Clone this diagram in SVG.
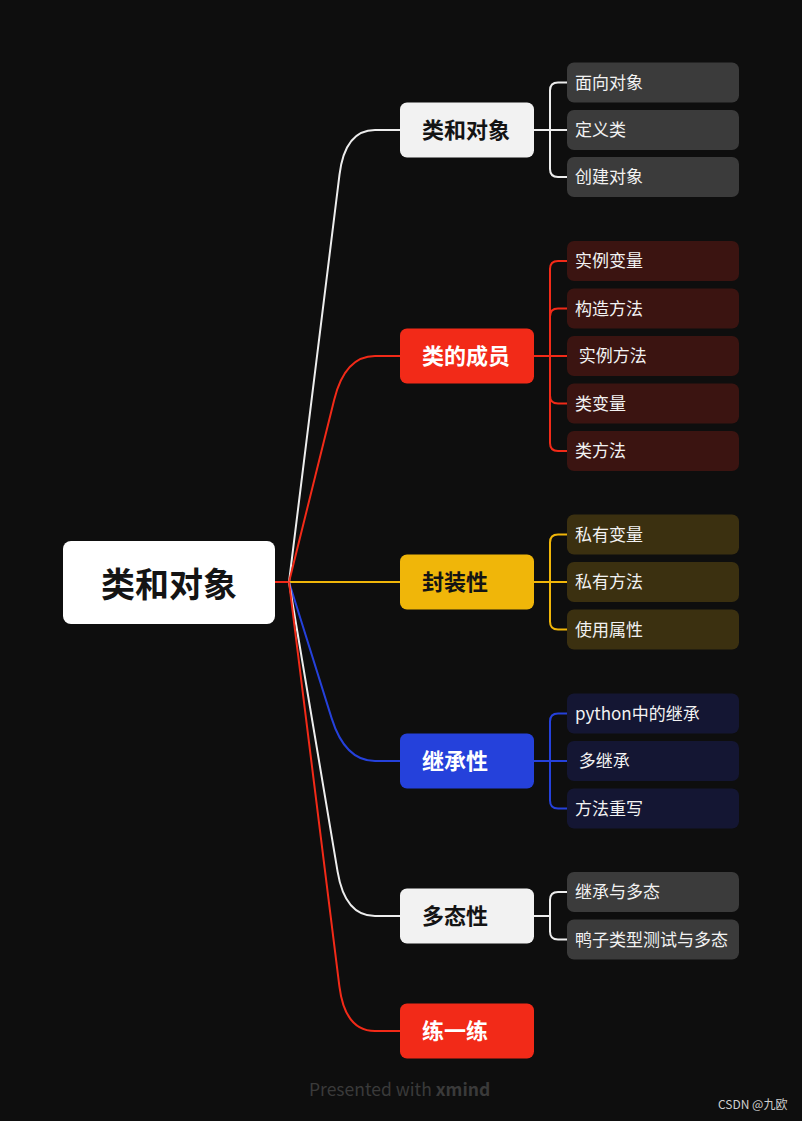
<svg xmlns="http://www.w3.org/2000/svg" width="802" height="1121" viewBox="0 0 802 1121">
<style>
text{font-family:"Noto Sans CJK SC","Noto Sans",sans-serif}
.l1{font-size:22px;font-weight:700}
.dk{fill:#141414}
.wt{fill:#ffffff}
.sub{font-size:17px;fill:#f2f2f2}
.c{fill:none;stroke-width:2;stroke-linecap:round}
.w{stroke:#ededed}.r{stroke:#f22a18}.y{stroke:#f0b609}.b{stroke:#2541db}
</style>
<rect width="802" height="1121" fill="#0e0e0e"/>
<g id="connectors">
<path class="c r" d="M274 582 L289 582"/>
<path class="c w" d="M289 582 L339.5 174.7 Q345 130 375 130 L400 130"/>
<path class="c r" d="M289 582 L334.2 399.7 Q345 356 375 356 L400 356"/>
<path class="c y" d="M289 582 L400 582"/>
<path class="c b" d="M289 582 L331.6 718.1 Q345 761 375 761 L400 761"/>
<path class="c w" d="M289 582 L337.6 871.6 Q345 916 375 916 L400 916"/>
<path class="c r" d="M289 582 L339.4 986.3 Q345 1031 375 1031 L400 1031"/>
<path class="c w" d="M534 130 L567 130 M550 130 L550 90.5 Q550 82.5 558 82.5 L567 82.5 M550 130 L550 169 Q550 177 558 177 L567 177"/>
<path class="c r" d="M534 356 L567 356 M550 356 L550 269 Q550 261 558 261 L567 261 M550 356 L550 316.5 Q550 308.5 558 308.5 L567 308.5 M550 356 L550 395.5 Q550 403.5 558 403.5 L567 403.5 M550 356 L550 443 Q550 451 558 451 L567 451"/>
<path class="c y" d="M534 582 L567 582 M550 582 L550 542.5 Q550 534.5 558 534.5 L567 534.5 M550 582 L550 621.5 Q550 629.5 558 629.5 L567 629.5"/>
<path class="c b" d="M534 761 L567 761 M550 761 L550 721.5 Q550 713.5 558 713.5 L567 713.5 M550 761 L550 800.5 Q550 808.5 558 808.5 L567 808.5"/>
<path class="c w" d="M534 916 L550 916 M550 916 L550 900 Q550 892 558 892 L567 892 M550 916 L550 931.5 Q550 939.5 558 939.5 L567 939.5"/>
</g>
<g id="root">
<rect x="63" y="541" width="212" height="83" rx="8" fill="#ffffff"/>
<text x="169" y="597" font-size="34" font-weight="700" fill="#141414" text-anchor="middle">类和对象</text>
</g>
<g id="n1">
<rect x="400" y="102.5" width="134" height="55" rx="7" fill="#f2f2f2"/>
<text class="l1 dk" x="422" y="138">类和对象</text>
</g>
<g id="n2">
<rect x="400" y="328.5" width="134" height="55" rx="7" fill="#f22a18"/>
<text class="l1 wt" x="422" y="364">类的成员</text>
</g>
<g id="n3">
<rect x="400" y="554.5" width="134" height="55" rx="7" fill="#f0b609"/>
<text class="l1 dk" x="422" y="590">封装性</text>
</g>
<g id="n4">
<rect x="400" y="733.5" width="134" height="55" rx="7" fill="#2541db"/>
<text class="l1 wt" x="422" y="769">继承性</text>
</g>
<g id="n5">
<rect x="400" y="888.5" width="134" height="55" rx="7" fill="#f2f2f2"/>
<text class="l1 dk" x="422" y="924">多态性</text>
</g>
<g id="n6">
<rect x="400" y="1003.5" width="134" height="55" rx="7" fill="#f22a18"/>
<text class="l1 wt" x="422" y="1039">练一练</text>
</g>
<g id="s1a"><rect x="567" y="62.5" width="172" height="40" rx="7" fill="#3b3b3b"/><text class="sub" x="575" y="88.5">面向对象</text></g>
<g id="s1b"><rect x="567" y="110" width="172" height="40" rx="7" fill="#3b3b3b"/><text class="sub" x="575" y="136">定义类</text></g>
<g id="s1c"><rect x="567" y="157" width="172" height="40" rx="7" fill="#3b3b3b"/><text class="sub" x="575" y="183">创建对象</text></g>
<g id="s2a"><rect x="567" y="241" width="172" height="40" rx="7" fill="#3b1411"/><text class="sub" x="575" y="267">实例变量</text></g>
<g id="s2b"><rect x="567" y="288.5" width="172" height="40" rx="7" fill="#3b1411"/><text class="sub" x="575" y="314.5">构造方法</text></g>
<g id="s2c"><rect x="567" y="336" width="172" height="40" rx="7" fill="#3b1411"/><text class="sub" x="575" y="362" xml:space="preserve"> 实例方法</text></g>
<g id="s2d"><rect x="567" y="383.5" width="172" height="40" rx="7" fill="#3b1411"/><text class="sub" x="575" y="409.5">类变量</text></g>
<g id="s2e"><rect x="567" y="431" width="172" height="40" rx="7" fill="#3b1411"/><text class="sub" x="575" y="457">类方法</text></g>
<g id="s3a"><rect x="567" y="514.5" width="172" height="40" rx="7" fill="#3b3010"/><text class="sub" x="575" y="540.5">私有变量</text></g>
<g id="s3b"><rect x="567" y="562" width="172" height="40" rx="7" fill="#3b3010"/><text class="sub" x="575" y="588">私有方法</text></g>
<g id="s3c"><rect x="567" y="609.5" width="172" height="40" rx="7" fill="#3b3010"/><text class="sub" x="575" y="635.5">使用属性</text></g>
<g id="s4a"><rect x="567" y="693.5" width="172" height="40" rx="7" fill="#141633"/><text class="sub" x="575" y="719.5">python中的继承</text></g>
<g id="s4b"><rect x="567" y="741" width="172" height="40" rx="7" fill="#141633"/><text class="sub" x="575" y="767" xml:space="preserve"> 多继承</text></g>
<g id="s4c"><rect x="567" y="788.5" width="172" height="40" rx="7" fill="#141633"/><text class="sub" x="575" y="814.5">方法重写</text></g>
<g id="s5a"><rect x="567" y="872" width="172" height="40" rx="7" fill="#3b3b3b"/><text class="sub" x="575" y="898">继承与多态</text></g>
<g id="s5b"><rect x="567" y="919.5" width="172" height="40" rx="7" fill="#3b3b3b"/><text class="sub" x="575" y="945.5">鸭子类型测试与多态</text></g>
<text x="309" y="1096" font-size="17.5" fill="#3a3a3a" font-family="'Open Sans',sans-serif">Presented with <tspan font-weight="700">xmind</tspan></text>
<text x="718" y="1109" font-size="12" fill="#cfcfcf">CSDN @九欧</text>
</svg>
